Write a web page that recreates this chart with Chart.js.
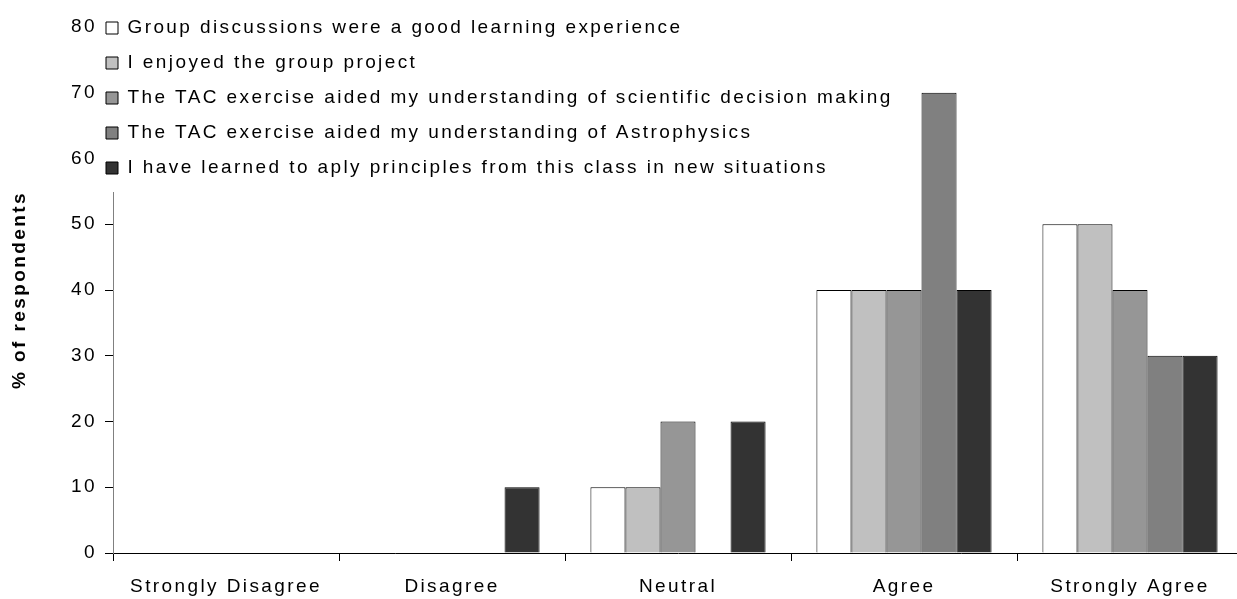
<!DOCTYPE html>
<html>
<head>
<meta charset="utf-8">
<script src="https://cdn.jsdelivr.net/npm/chart.js@4/dist/chart.umd.min.js"></script>
<style>
    html, body { margin: 0; padding: 0; background: #fff; overflow: hidden; }
</style>
</head>
<body>
<canvas id="chart-survey" width="1250" height="599"></canvas>
<script>
/* ─────────────────────────────────────────
   DATA
───────────────────────────────────────── */
const categories = ['Strongly Disagree', 'Disagree', 'Neutral', 'Agree', 'Strongly Agree'];

const seriesNames = [
    'Group discussions were a good learning experience',
    'I enjoyed the group project',
    'The TAC exercise aided my understanding of scientific decision making',
    'The TAC exercise aided my understanding of Astrophysics',
    'I have learned to aply principles from this class in new situations',
];

const groupDiscussions = [0, 0, 10, 40, 50];
const groupProject     = [0, 0, 10, 40, 50];
const tacDecision      = [0, 0, 20, 40, 40];
const tacAstro         = [0, 0, 0, 70, 30];
const newSituations    = [0, 10, 20, 40, 30];

const yTicks = [0, 10, 20, 30, 40, 50, 60, 70, 80];

const fills = ['#ffffff', '#c0c0c0', '#969696', '#808080', '#333333'];

/* ─────────────────────────────────────────
   HELPERS — wide letter spacing like the original
───────────────────────────────────────── */
const spacing = {
    id: 'spacing',
    beforeUpdate(chart) { chart.ctx.letterSpacing = '2.4px'; },
    beforeDraw(chart) { chart.ctx.letterSpacing = '2.4px'; }
};

/* ─────────────────────────────────────────
   LEGEND — sits over the top of the plot, white behind it
───────────────────────────────────────── */
const legendPatch = {
    id: 'legendPatch',
    afterLayout(chart) {
        const lg = chart.legend;
        lg.left = 90;
        lg.top = 2.5;
    },
    beforeDatasetsDraw(chart) {
        const lg = chart.legend;
        const ctx = chart.ctx;
        let r = 0;
        lg.legendHitBoxes.forEach(h => { r = Math.max(r, h.left + h.width); });
        ctx.save();
        ctx.fillStyle = '#ffffff';
        ctx.fillRect(105, 0, r - 105 + 4, 192);
        ctx.restore();
        lg.draw();
    }
};

const font = {family: "'Liberation Sans', Arial, sans-serif", size: 19};
const series = [groupDiscussions, groupProject, tacDecision, tacAstro, newSituations];

new Chart(document.getElementById('chart-survey'), {
    type: 'bar',
    data: {
        labels: categories,
        datasets: series.map((d, i) => ({
            label: seriesNames[i],
            data: d,
            backgroundColor: fills[i],
            borderColor: '#000000',
            borderWidth: 1,
            categoryPercentage: 0.775,
            barPercentage: 1.0,
        }))
    },
    options: {
        responsive: false,
        animation: false,
        layout: {padding: {left: 0, right: 7, top: 27, bottom: 0}},
        plugins: {
            legend: {
                position: 'chartArea',
                align: 'start',
                labels: {
                    color: '#000',
                    font: font,
                    boxWidth: 12,
                    boxHeight: 12,
                    padding: 16,
                }
            },
            tooltip: {enabled: false}
        },
        scales: {
            x: {
                afterFit(scale) {
                    scale.height = 46;
                },
                ticks: {color: '#000', font: font, padding: 14, maxRotation: 0},
                grid: {drawOnChartArea: false, offset: true, tickLength: 8, color: '#000'},
                border: {color: '#000'}
            },
            y: {
                min: 0,
                max: 80,
                afterBuildTicks(scale) {
                    scale.ticks = yTicks.map(v => ({value: v}));
                },
                afterFit(scale) {
                    scale.width = 113;
                },
                ticks: {color: '#000', font: font, padding: 8},
                grid: {drawOnChartArea: false, tickLength: 8, color: '#000'},
                border: {color: '#808080'},
                title: {
                    display: true,
                    text: '% of respondents',
                    color: '#000',
                    font: {family: "'Liberation Sans', Arial, sans-serif", size: 19, weight: 'bold'},
                    padding: {top: 8, bottom: 0}
                }
            }
        }
    },
    plugins: [spacing, legendPatch]
});
</script>
</body>
</html>
